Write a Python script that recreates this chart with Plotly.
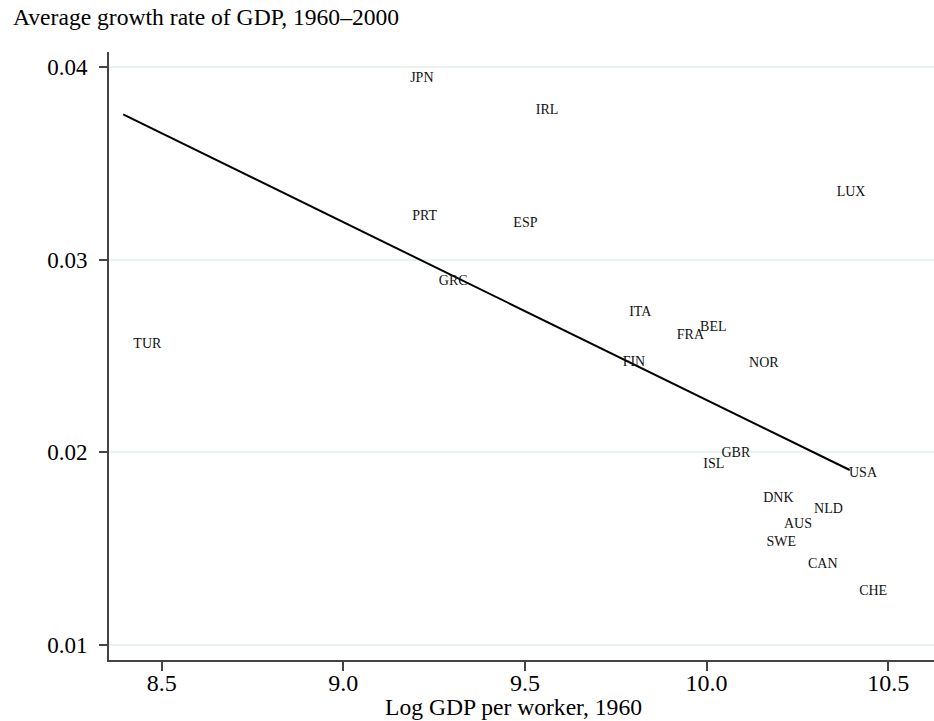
import plotly.graph_objects as go

# Data: country codes, log GDP per worker 1960, average growth 1960-2000
countries = ["TUR", "JPN", "IRL", "PRT", "ESP", "GRC", "ITA", "FRA", "BEL", "FIN",
             "NOR", "GBR", "ISL", "USA", "DNK", "NLD", "AUS", "SWE", "CAN", "CHE", "LUX"]
log_gdp_1960 = [8.422, 9.184, 9.530, 9.190, 9.468, 9.263, 9.787, 9.918, 9.982, 9.769,
                10.117, 10.041, 9.991, 10.392, 10.156, 10.296, 10.213, 10.165, 10.279, 10.420, 10.358]
growth_rate = [0.02561, 0.03939, 0.03773, 0.03225, 0.03189, 0.02884, 0.02726, 0.02608, 0.02646, 0.02466,
               0.02461, 0.01994, 0.01934, 0.01891, 0.01761, 0.01704, 0.01626, 0.01533, 0.01415, 0.01277, 0.03348]

# Fitted regression line endpoints
fit_x = [8.394, 10.394]
fit_y = [0.03753, 0.01908]

x_ticks = [8.5, 9.0, 9.5, 10.0, 10.5]
y_ticks = [0.01, 0.02, 0.03, 0.04]

FONT = "Liberation Serif, Times New Roman, serif"
W, H = 934, 721
L, R, T, B = 109, 0, 52, 61
pw = W - L - R
ph = H - T - B

fig = go.Figure()
fig.add_trace(go.Scatter(
    x=fit_x, y=fit_y, mode="lines",
    line=dict(color="black", width=2), hoverinfo="skip", showlegend=False))
fig.add_trace(go.Scatter(
    x=log_gdp_1960, y=growth_rate, text=countries, mode="text",
    textposition="middle right",
    textfont=dict(family=FONT, size=14, color="#111111"),
    showlegend=False))

fig.update_layout(
    width=W, height=H,
    margin=dict(l=L, r=R, t=T, b=B, autoexpand=False),
    paper_bgcolor="white", plot_bgcolor="white",
    font=dict(family=FONT, color="black"),
    title=dict(text="Average growth rate of GDP, 1960–2000",
               font=dict(family=FONT, size=23.6, color="black"),
               xref="container", yref="container",
               x=13 / W, xanchor="left", y=1 - 17 / H, yanchor="middle"),
)
fig.update_xaxes(
    range=[8.355, 10.626], tickvals=x_ticks, ticktext=[f"{v:.1f}" for v in x_ticks],
    showgrid=False, zeroline=False, automargin=False,
    showline=True, linecolor="#444444", linewidth=2,
    ticks="outside", ticklen=9, tickwidth=1.5, tickcolor="#444444",
    ticklabelstandoff=-9,
    tickfont=dict(family=FONT, size=24, color="black"),
)
fig.update_yaxes(
    range=[0.00922, 0.04077], tickvals=y_ticks, ticktext=[f"{v:.2f}" for v in y_ticks],
    showgrid=True, gridcolor="#EAF2F3", gridwidth=1.5, zeroline=False, automargin=False,
    showline=True, linecolor="#444444", linewidth=2,
    ticks="outside", ticklen=8, tickwidth=1.5, tickcolor="#444444",
    ticklabelstandoff=7,
    tickfont=dict(family=FONT, size=23, color="black"),
)
fig.add_annotation(
    text="Log GDP per worker, 1960", xref="paper", yref="paper",
    x=(513.5 - L) / pw, y=-(707 - (H - B)) / ph,
    xanchor="center", yanchor="middle", showarrow=False,
    font=dict(family=FONT, size=23.6, color="black"))

fig.write_html(
    "out.html",
    config={"displayModeBar": False},
    post_script="document.body.style.margin='0';document.body.style.overflow='hidden';",
)
